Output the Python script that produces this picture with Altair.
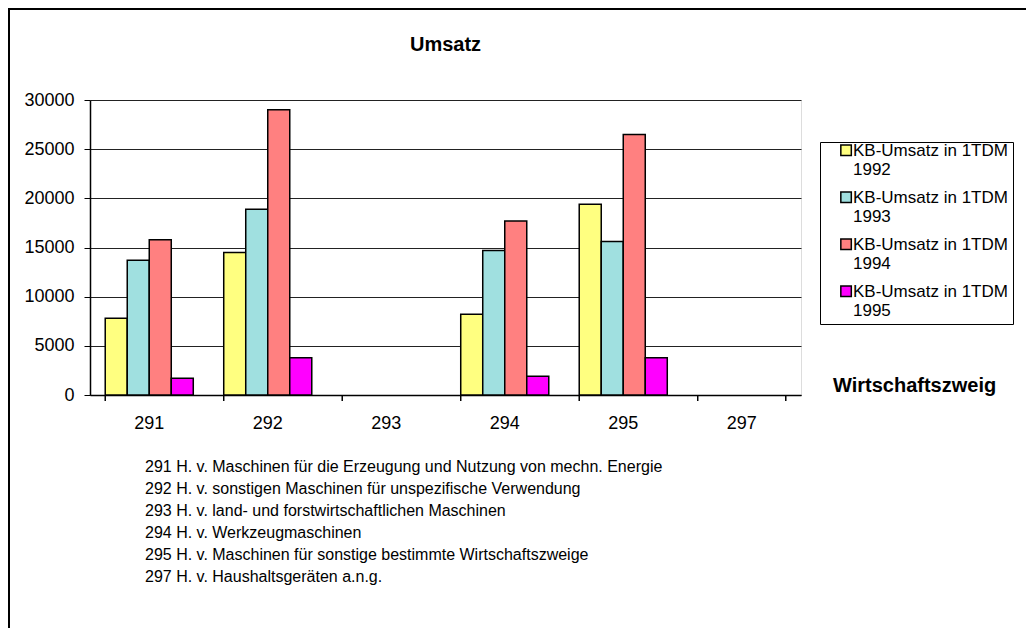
import altair as alt
import pandas as pd

categories = ["291", "292", "293", "294", "295", "297"]
series = ["1992", "1993", "1994", "1995"]
umsatz_1992 = [7800, 14500, None, 8200, 19400, None]
umsatz_1993 = [13700, 18900, None, 14700, 15600, None]
umsatz_1994 = [15800, 29000, None, 17700, 26500, None]
umsatz_1995 = [1700, 3800, None, 1900, 3800, None]
colors = ["#FFFF80", "#A0E0E0", "#FF8080", "#FF00FF"]
y_ticks = [0, 5000, 10000, 15000, 20000, 25000, 30000]
notes = [
    "291 H. v. Maschinen für die Erzeugung und Nutzung von mechn. Energie",
    "292 H. v. sonstigen Maschinen für unspezifische Verwendung",
    "293 H. v. land- und forstwirtschaftlichen Maschinen",
    "294 H. v. Werkzeugmaschinen",
    "295 H. v. Maschinen für sonstige bestimmte Wirtschaftszweige",
    "297 H. v. Haushaltsgeräten a.n.g.",
]

rows = []
for s, vals in zip(series, [umsatz_1992, umsatz_1993, umsatz_1994, umsatz_1995]):
    for c, v in zip(categories, vals):
        if v is not None:
            rows.append({"Zweig": c, "Jahr": s, "Umsatz": v})
df = pd.DataFrame(rows)

FONT = "Liberation Sans"
W, H = 711, 295

xscale = alt.Scale(domain=categories, paddingInner=0.257, paddingOuter=0.1285)

bars = alt.Chart(df).mark_bar(stroke="black", strokeWidth=1.5).encode(
    x=alt.X("Zweig:N", scale=xscale, sort=categories,
            axis=alt.Axis(title=None, labelAngle=0, ticks=False, labelFontSize=18,
                          labelFont=FONT, labelColor="black", labelPadding=19,
                          domainColor="black", domainWidth=1.5, grid=False)),
    xOffset=alt.XOffset("Jahr:N", scale=alt.Scale(domain=series, paddingInner=0, paddingOuter=0)),
    y=alt.Y("Umsatz:Q", scale=alt.Scale(domain=[0, 30000], nice=False),
            axis=alt.Axis(title=None, values=y_ticks, format="d", grid=True,
                          gridColor="#222222", gridWidth=1, tickColor="black",
                          tickSize=6, labelFontSize=18, labelFont=FONT,
                          labelColor="black", labelPadding=10,
                          domainColor="black", domainWidth=1.5)),
    color=alt.Color("Jahr:N", scale=alt.Scale(domain=series, range=colors),
                    legend=alt.Legend(title=None, orient="none", legendX=730, legendY=42,
                                      strokeColor="black", fillColor="white", padding=5,
                                      symbolType="M-0.7,-2H1.3V0H-0.7Z", symbolSize=110,
                                      symbolStrokeColor="black", symbolStrokeWidth=1.5,
                                      symbolOffset=11, labelOffset=0,
                                      labelExpr="['KB-Umsatz in 1TDM', datum.label]",
                                      labelFontSize=17, labelFont=FONT, labelColor="black",
                                      labelBaseline="alphabetic", labelLimit=300,
                                      rowPadding=10)),
)

tick_df = pd.DataFrame({"Zweig": categories})
ticks = alt.Chart(tick_df).mark_rule(color="black", strokeWidth=1.5).encode(
    x=alt.X("Zweig:N", scale=xscale, sort=categories, bandPosition=0),
    y=alt.value(H), y2=alt.value(H + 6),
)
end_tick = alt.Chart(pd.DataFrame({"Zweig": [categories[-1]]})).mark_rule(
    color="black", strokeWidth=1.5).encode(
    x=alt.X("Zweig:N", scale=xscale, sort=categories, bandPosition=1),
    y=alt.value(H), y2=alt.value(H + 6),
)

title = alt.Chart(pd.DataFrame({"t": ["Umsatz"]})).mark_text(
    font=FONT, fontSize=20, fontWeight="bold", align="center", baseline="middle",
    color="black").encode(text="t:N", x=alt.value(W / 2), y=alt.value(-55))

axis_title = alt.Chart(pd.DataFrame({"t": ["Wirtschaftszweig"]})).mark_text(
    font=FONT, fontSize=20, fontWeight="bold", align="left", baseline="alphabetic",
    color="black").encode(text="t:N", x=alt.value(743), y=alt.value(292))

footnote = alt.Chart(pd.DataFrame({"t": [0]})).mark_text(
    font=FONT, fontSize=16, align="left", baseline="middle", lineHeight=22,
    color="black").encode(text=alt.value(notes), x=alt.value(55), y=alt.value(367))

border_top = alt.Chart(pd.DataFrame({"t": [0]})).mark_rule(color="black", strokeWidth=2).encode(
    x=alt.value(-82), x2=alt.value(1000), y=alt.value(-91))
border_left = alt.Chart(pd.DataFrame({"t": [0]})).mark_rule(color="black", strokeWidth=2).encode(
    x=alt.value(-81), y=alt.value(-92), y2=alt.value(600))

chart = alt.layer(bars, ticks, end_tick, title, axis_title, footnote, border_top, border_left).properties(
    width=W, height=H,
    autosize=alt.AutoSizeParams(type="none"),
    padding={"left": 82, "top": 92, "right": 225, "bottom": 233},
).configure_view(stroke=None).configure(background="white")

chart.save("out.html", embed_options={"renderer": "svg", "actions": False})
